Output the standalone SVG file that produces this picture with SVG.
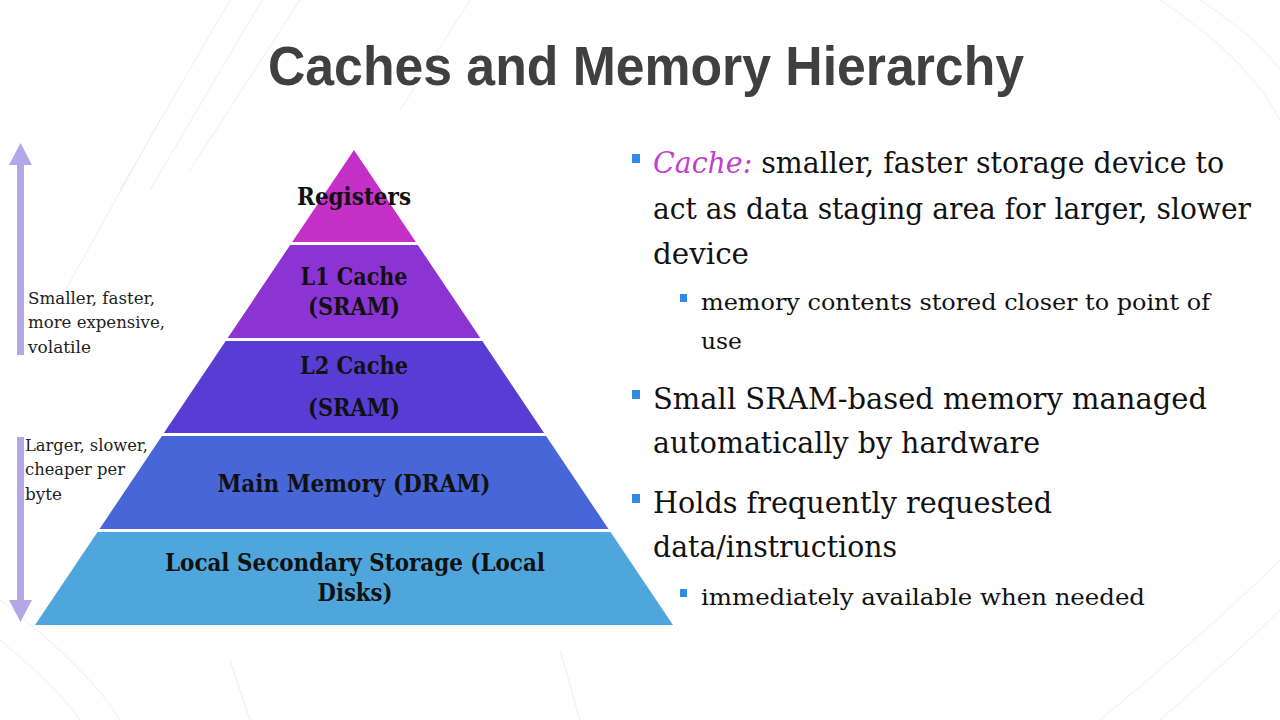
<svg xmlns="http://www.w3.org/2000/svg" width="1280" height="720" viewBox="0 0 1280 720">
  <style>
    .title { font-family: "Liberation Sans", Arial, sans-serif; font-weight: bold; font-size: 55px; fill: #404040; }
    .lbl { font-family: "DejaVu Serif", "Liberation Serif", serif; font-weight: bold; font-size: 25px; fill: #111; text-anchor: middle; }
    .note { font-family: "DejaVu Serif", "Liberation Serif", serif; font-size: 17px; fill: #222; }
    .b1 { font-family: "DejaVu Serif", "Liberation Serif", serif; font-size: 29px; fill: #111; }
    .b2 { font-family: "DejaVu Serif", "Liberation Serif", serif; font-size: 22px; fill: #111; }
    .em { font-style: italic; fill: #c23fcf; }
    .sq { fill: #2f8be6; }
    .arrow { fill: #b3a7e8; }
    .deco { fill: none; stroke: #efefef; stroke-width: 1; }
  </style>

  <rect x="0" y="0" width="1280" height="720" fill="#ffffff"/>

  <!-- faint background linework -->
  <g id="background-lines">
    <path class="deco" d="M230 0 L120 190 M262 0 L150 190 M300 0 L190 170 M470 0 L400 110 M160 120 L60 300"/>
    <path class="deco" d="M1160 0 Q1250 60 1280 120 M1200 0 Q1260 40 1280 70 M1100 720 Q1220 620 1280 560 M1160 720 Q1240 650 1280 610"/>
    <path class="deco" d="M0 640 Q60 690 80 720 M0 600 Q90 670 120 720 M230 660 L250 720 M560 650 L580 720"/>
  </g>

  <g id="title">
    <text class="title" x="268" y="85" textLength="756" lengthAdjust="spacingAndGlyphs">Caches and Memory Hierarchy</text>
  </g>

  <!-- pyramid layers, top to bottom -->
  <g id="registers">
    <polygon points="354,150 415.8,242 292.2,242" fill="#c42fc8"/>
    <text class="lbl" x="354" y="205" textLength="114" lengthAdjust="spacingAndGlyphs">Registers</text>
  </g>
  <g id="l1-cache">
    <polygon points="290.2,245 417.8,245 480.3,338 227.7,338" fill="#8c34d3"/>
    <text class="lbl" x="354" y="285" textLength="107" lengthAdjust="spacingAndGlyphs">L1 Cache</text>
    <text class="lbl" x="354" y="315" textLength="92" lengthAdjust="spacingAndGlyphs">(SRAM)</text>
  </g>
  <g id="l2-cache">
    <polygon points="225.7,341 482.3,341 544.1,433 163.9,433" fill="#573dd4"/>
    <text class="lbl" x="354" y="374" textLength="108" lengthAdjust="spacingAndGlyphs">L2 Cache</text>
    <text class="lbl" x="354" y="416" textLength="92" lengthAdjust="spacingAndGlyphs">(SRAM)</text>
  </g>
  <g id="main-memory">
    <polygon points="161.9,436 546.1,436 608.5,529 99.5,529" fill="#4767d9"/>
    <text class="lbl" x="354" y="492" textLength="273" lengthAdjust="spacingAndGlyphs">Main Memory (DRAM)</text>
  </g>
  <g id="local-storage">
    <polygon points="97.5,532 610.5,532 673,625 35,625" fill="#4ea6dc"/>
    <text class="lbl" x="355" y="571" textLength="380" lengthAdjust="spacingAndGlyphs">Local Secondary Storage (Local</text>
    <text class="lbl" x="355" y="601" textLength="75" lengthAdjust="spacingAndGlyphs">Disks)</text>
  </g>

  <!-- side arrows -->
  <g id="connectors">
    <polygon class="arrow" points="20.5,143 32,165 24,165 24,355 17,355 17,165 9,165"/>
    <polygon class="arrow" points="17,437 24,437 24,600 32,600 20.5,622 9,600 17,600"/>
  </g>

  <g id="note-fast">
    <text class="note" x="28" y="304" textLength="127" lengthAdjust="spacingAndGlyphs">Smaller, faster,</text>
    <text class="note" x="28" y="328" textLength="137" lengthAdjust="spacingAndGlyphs">more expensive,</text>
    <text class="note" x="28" y="353" textLength="63" lengthAdjust="spacingAndGlyphs">volatile</text>
  </g>
  <g id="note-slow">
    <text class="note" x="25" y="451" textLength="123" lengthAdjust="spacingAndGlyphs">Larger, slower,</text>
    <text class="note" x="25" y="475" textLength="100" lengthAdjust="spacingAndGlyphs">cheaper per</text>
    <text class="note" x="25" y="500" textLength="37" lengthAdjust="spacingAndGlyphs">byte</text>
  </g>

  <!-- bullet text -->
  <g id="bullets">
    <rect class="sq" x="632" y="154" width="8" height="9"/>
    <text class="b1" x="653" y="173" textLength="571" lengthAdjust="spacingAndGlyphs"><tspan class="em">Cache:</tspan> smaller, faster storage device to</text>
    <text class="b1" x="653" y="219" textLength="598" lengthAdjust="spacingAndGlyphs">act as data staging area for larger, slower</text>
    <text class="b1" x="653" y="264" textLength="96" lengthAdjust="spacingAndGlyphs">device</text>

    <rect class="sq" x="680" y="294" width="7" height="8"/>
    <text class="b2" x="701" y="310" textLength="509" lengthAdjust="spacingAndGlyphs">memory contents stored closer to point of</text>
    <text class="b2" x="701" y="349" textLength="41" lengthAdjust="spacingAndGlyphs">use</text>

    <rect class="sq" x="632" y="390" width="8" height="9"/>
    <text class="b1" x="653" y="409" textLength="554" lengthAdjust="spacingAndGlyphs">Small SRAM-based memory managed</text>
    <text class="b1" x="653" y="453" textLength="387" lengthAdjust="spacingAndGlyphs">automatically by hardware</text>

    <rect class="sq" x="632" y="494" width="8" height="9"/>
    <text class="b1" x="653" y="513" textLength="399" lengthAdjust="spacingAndGlyphs">Holds frequently requested</text>
    <text class="b1" x="653" y="557" textLength="244" lengthAdjust="spacingAndGlyphs">data/instructions</text>

    <rect class="sq" x="680" y="589" width="7" height="8"/>
    <text class="b2" x="701" y="605" textLength="444" lengthAdjust="spacingAndGlyphs">immediately available when needed</text>
  </g>
</svg>
